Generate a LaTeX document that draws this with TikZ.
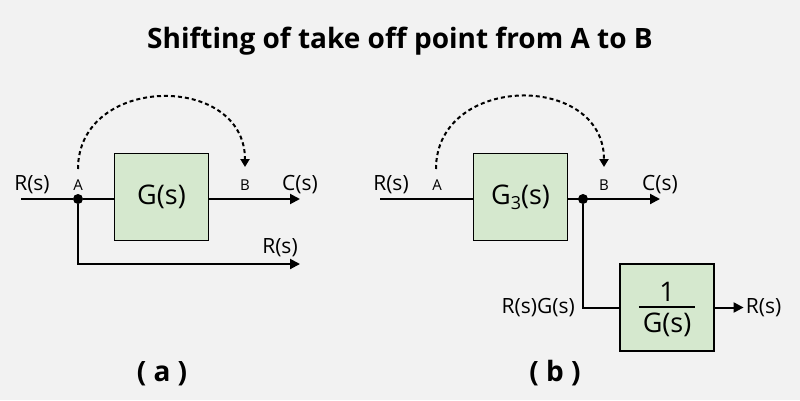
\documentclass[tikz,border=0pt]{standalone}
\usepackage{fontspec}
\setmainfont{Open Sans}
\usetikzlibrary{arrows.meta, positioning}
\definecolor{bggray}{RGB}{242,242,242}
\definecolor{blockgreen}{RGB}{213,232,206}
\tikzset{
  block/.style={rectangle, draw=black, line width=1.2pt, fill=blockgreen,
    minimum width=94pt, minimum height=87pt, inner sep=0pt,
    font=\fontsize{27}{31}\selectfont},
  sigline/.style={line width=2pt},
  sigarrow/.style={sigline, -{Triangle[length=10pt, width=10pt]}},
  shiftarrow/.style={line width=2pt, dash pattern=on 4pt off 3pt,
    -{Triangle[length=8pt, width=9pt]}},
  takeoff/.style={circle, fill=black, inner sep=0pt, minimum size=10pt},
  siglabel/.style={font=\fontsize{21}{24}\selectfont, inner sep=0pt},
  ptlabel/.style={font=\fontsize{15}{18}\selectfont, inner sep=0pt},
  caption/.style={font=\bfseries\fontsize{28}{32}\selectfont, inner sep=0pt},
}

\begin{document}
\begin{tikzpicture}[x=1pt, y=-1pt]
  \fill[bggray] (0,0) rectangle (800,400);
  \useasboundingbox (0,0) rectangle (800,400);
  \node[font=\bfseries\fontsize{28}{34}\selectfont, inner sep=0pt, anchor=base]
    (title) at (400,48) {Shifting of take off point from A to B};

  % (a) take off point at A
  \coordinate (inA) at (21,199);
  \node[takeoff] (ptA) at (78,199) {};
  \node[block] (gblk) at (161.5,197) {G(s)};
  \coordinate (outA) at (300,199);
  \coordinate (turnA) at (78,264);
  \coordinate (retA) at (300,264);
  \coordinate (arcA) at (78,169);
  \coordinate (arcB) at (245,167);

  \draw[sigline] (inA) -- (ptA) -- (gblk.west |- ptA);
  \draw[sigarrow] (gblk.east |- ptA) -- (outA);
  \draw[sigarrow] (ptA) -- (turnA) -- (retA);
  \draw[shiftarrow] (arcA) to[out=90, in=90, looseness=1.45] (arcB);

  \node[siglabel, anchor=base] (rinA) at (32,190) {R(s)};
  \node[ptlabel, anchor=base] (labA) at (78,190) {A};
  \node[ptlabel, anchor=base] (labB) at (245,190) {B};
  \node[siglabel, anchor=base] (coutA) at (300,190) {C(s)};
  \node[siglabel, anchor=base] (rretA) at (280,253) {R(s)};
  \node[caption, anchor=base] (capA) at (162,381) {( a )};

  % (b) take off point moved to B
  \coordinate (inB) at (380,199);
  \node[block] (g3blk) at (520.5,197)
    {G\raisebox{-5pt}{\fontsize{18}{20}\selectfont 3}(s)};
  \node[takeoff] (ptB) at (583,199) {};
  \coordinate (outB) at (660,199);
  \node[block] (invblk) at (667,307.5)
    {\setlength{\arrayrulewidth}{2pt}%
     \begin{tabular}{@{\hspace{4pt}}c@{\hspace{4pt}}}
       1\\[-5pt]\hline
       \rule{0pt}{25pt}G(s)\\[-7pt]
     \end{tabular}};
  \coordinate (turnB) at (ptB |- invblk);
  \coordinate[right=29pt of invblk.east] (retB);
  \coordinate (arcC) at (436,169);
  \coordinate (arcD) at (604,167);

  \draw[sigline] (inB) -- (g3blk.west |- inB);
  \draw[sigarrow] (g3blk.east |- ptB) -- (outB);
  \draw[sigline] (ptB) -- (turnB) -- (invblk.west);
  \draw[sigarrow] (invblk.east) -- (retB);
  \draw[shiftarrow] (arcC) to[out=90, in=90, looseness=1.45] (arcD);

  \node[siglabel, anchor=base] (rinB) at (391,190) {R(s)};
  \node[ptlabel, anchor=base] (labC) at (437,190) {A};
  \node[ptlabel, anchor=base] (labD) at (604,190) {B};
  \node[siglabel, anchor=base] (coutB) at (660,190) {C(s)};
  \node[siglabel, left=8pt of turnB] (rgB) {R(s)G(s)};
  \node[siglabel, right=2pt of retB] (rretB) {R(s)};
  \node[caption, anchor=base] (capB) at (555,381) {( b )};
\end{tikzpicture}
\end{document}
